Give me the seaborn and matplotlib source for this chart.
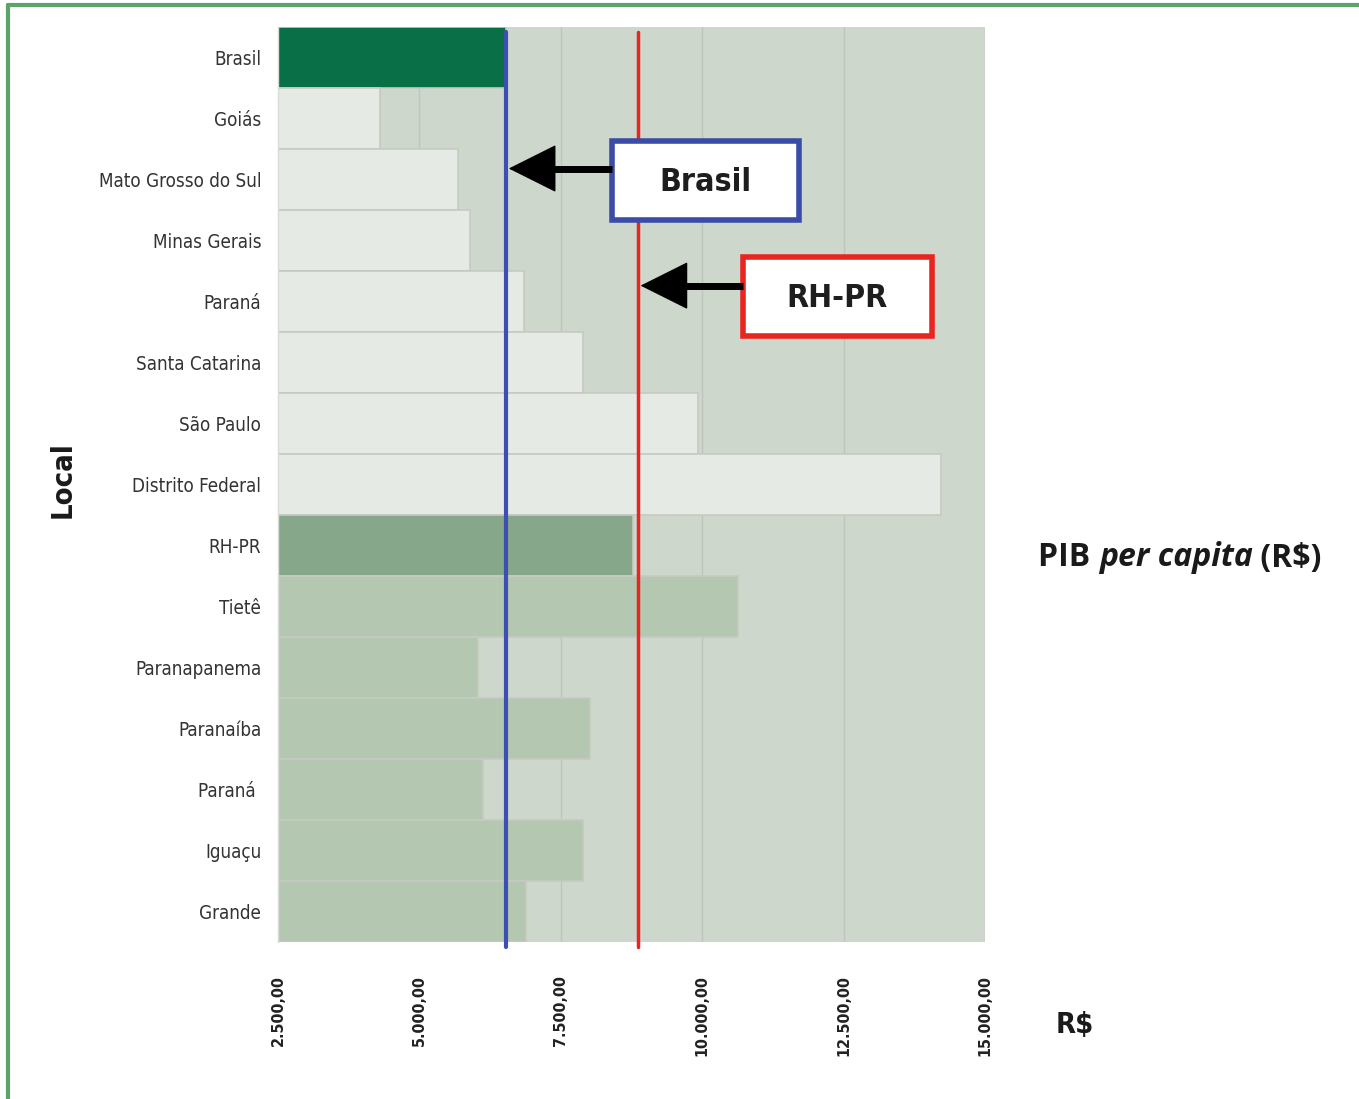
import matplotlib
matplotlib.use("Agg")
import matplotlib.pyplot as plt
from matplotlib import font_manager
from matplotlib.patches import Rectangle
from matplotlib.lines import Line2D
from matplotlib.ticker import FixedLocator, FuncFormatter
from matplotlib.transforms import offset_copy
import seaborn as sns
import pandas as pd

# PIB per capita (R$) by location
locais = ["Brasil", "Goiás", "Mato Grosso do Sul", "Minas Gerais", "Paraná",
          "Santa Catarina", "São Paulo", "Distrito Federal", "RH-PR", "Tietê",
          "Paranapanema", "Paranaíba", "Paraná ", "Iguaçu", "Grande"]
pib = [6530, 4300, 5680, 5900, 6850, 7890, 9930, 14220, 8780, 10630,
       6040, 8020, 6120, 7890, 6880]
grupo = ["pais"] + ["estado"] * 7 + ["rhpr"] + ["bacia"] * 6

# reference levels marked with vertical lines
ref_brasil = 6530
ref_rhpr = 8860

xticks = [2500, 5000, 7500, 10000, 12500, 15000]

cores = {"pais": "#086f47", "estado": "#e5ebe4", "rhpr": "#86a789", "bacia": "#b4c7b1"}

sns.set_theme(style="white")
plt.rcParams["font.family"] = ["DejaVu Sans"]

# narrow face for the labels, when one is available
_fonts = {(f.name, f.stretch) for f in font_manager.fontManager.ttflist}
if any(n == "DejaVu Sans" and s in ("condensed", "semi-condensed") for n, s in _fonts):
    NARROW = dict(family="DejaVu Sans", fontstretch="condensed")
    scale = 1.0
elif any(n == "Liberation Sans Narrow" for n, s in _fonts):
    NARROW = dict(family="Liberation Sans Narrow")
    scale = 1.05
else:
    NARROW = dict(family="DejaVu Sans")
    scale = 0.85

df = pd.DataFrame({"local": locais, "pib": pib, "grupo": grupo})

fig = plt.figure(figsize=(13.59, 10.99), dpi=100)
ax = fig.add_axes([278 / 1359, 1 - 942 / 1099, 707 / 1359, 915 / 1099])
ax.set_facecolor("#cdd7cc")

sns.barplot(data=df, x="pib", y="local", hue="grupo", palette=cores,
            orient="h", width=1.0, dodge=False, legend=False, saturation=1,
            edgecolor="#c6cac2", linewidth=1.2, ax=ax, zorder=2)

ax.set_xlim(2500, 15000)
ax.set_ylim(len(locais) - 0.5, -0.5)

ax.xaxis.set_major_locator(FixedLocator(xticks))
ax.xaxis.set_major_formatter(FuncFormatter(
    lambda v, p: f"{v:,.2f}".replace(",", "X").replace(".", ",").replace("X", ".")))
ax.grid(axis="x", color="#bec5bc", linewidth=1.0, zorder=0)
ax.set_axisbelow(True)

for s in ["top", "right", "bottom"]:
    ax.spines[s].set_visible(False)
ax.spines["left"].set_color("#d8dcd6")
ax.spines["left"].set_linewidth(1.0)

ax.tick_params(axis="x", length=0, pad=24, labelcolor="#222222", labelrotation=90)
for lbl in ax.get_xticklabels():
    lbl.set(fontweight="bold", fontsize=11.5 * scale, **NARROW)

ax.tick_params(axis="y", length=0, pad=12, labelcolor="#333333")
for lbl in ax.get_yticklabels():
    lbl.set(fontsize=13.5 * scale, **NARROW)
ax.set_yticks([i + 0.5 for i in range(len(locais) - 1)], minor=True)
ax.tick_params(axis="y", which="minor", length=8, color="#c8c8c8", width=1)

ax.set_xlabel("")
ax.set_ylabel("")

# vertical reference lines
ax.axvline(ref_brasil, ymin=-0.005, ymax=0.995, color="#3d4fb0", lw=3, zorder=5, clip_on=False)
ax.axvline(ref_rhpr, ymin=-0.005, ymax=0.995, color="#e8251f", lw=2.5, zorder=5, clip_on=False)

head = dict(arrowstyle="-|>,head_length=1.0,head_width=0.5",
            mutation_scale=32, lw=1, color="black", shrinkA=0, shrinkB=0)


def pointer(x_from, x_to, y):
    """Thick shaft plus a sharp triangular head pointing at x_to."""
    ax.plot([x_from, x_to + 300], [y, y], color="black", lw=5,
            solid_capstyle="butt", zorder=7)
    ax.annotate("", xy=(x_to + 50, y), xytext=(x_to + 800, y),
                arrowprops=head, zorder=7)


# labelled boxes with arrows
ax.add_patch(Rectangle((8400, 1.37), 3310, 1.29, facecolor="white",
                       edgecolor="#3a4ba8", lw=4, zorder=6))
ax.text(10050, 2.05, "Brasil", ha="center", va="center", fontsize=23 * scale,
        fontweight="bold", color="#1e1e1e", zorder=7, **NARROW)
pointer(8400, ref_brasil, 1.82)

ax.add_patch(Rectangle((10720, 3.27), 3340, 1.29, facecolor="white",
                       edgecolor="#e8251f", lw=4, zorder=6))
ax.text(12390, 3.95, "RH-PR", ha="center", va="center", fontsize=23 * scale,
        fontweight="bold", color="#1e1e1e", zorder=7, **NARROW)
pointer(10720, ref_rhpr, 3.74)

# axis titles placed around the plot
fig.text(63 / 1359, 1 - 480 / 1099, "Local", rotation=90, ha="center", va="center",
         fontsize=21 * scale, fontweight="bold", color="#1a1a1a", **NARROW)
fig.text(1075 / 1359, 1 - 1025 / 1099, "R$", ha="center", va="center",
         fontsize=21 * scale, fontweight="bold", color="#1a1a1a", **NARROW)

# "PIB per capita (R$)" with the Latin term in italics
renderer = fig.canvas.get_renderer()
x0, y0 = 1038 / 1359, 1 - 558 / 1099
pieces = [("PIB ", "normal"), ("per capita", "italic"), (" (R$)", "normal")]
offset = 0.0
for txt, style in pieces:
    t = fig.text(x0, y0, txt, ha="left", va="center", fontsize=23,
                 fontweight="bold", style=style, family="Open Sans",
                 color="#1a1a1a",
                 transform=offset_copy(fig.transFigure, fig=fig, x=offset, units="dots"))
    offset += t.get_window_extent(renderer).width

# green frame along the top and left edges
fig.add_artist(Line2D([8 / 1359, 1], [1 - 5 / 1099] * 2, transform=fig.transFigure,
                      color="#5aa46a", lw=3))
fig.add_artist(Line2D([8 / 1359] * 2, [0, 1 - 5 / 1099], transform=fig.transFigure,
                      color="#5aa46a", lw=3))

fig.savefig("out.png", dpi=100)
